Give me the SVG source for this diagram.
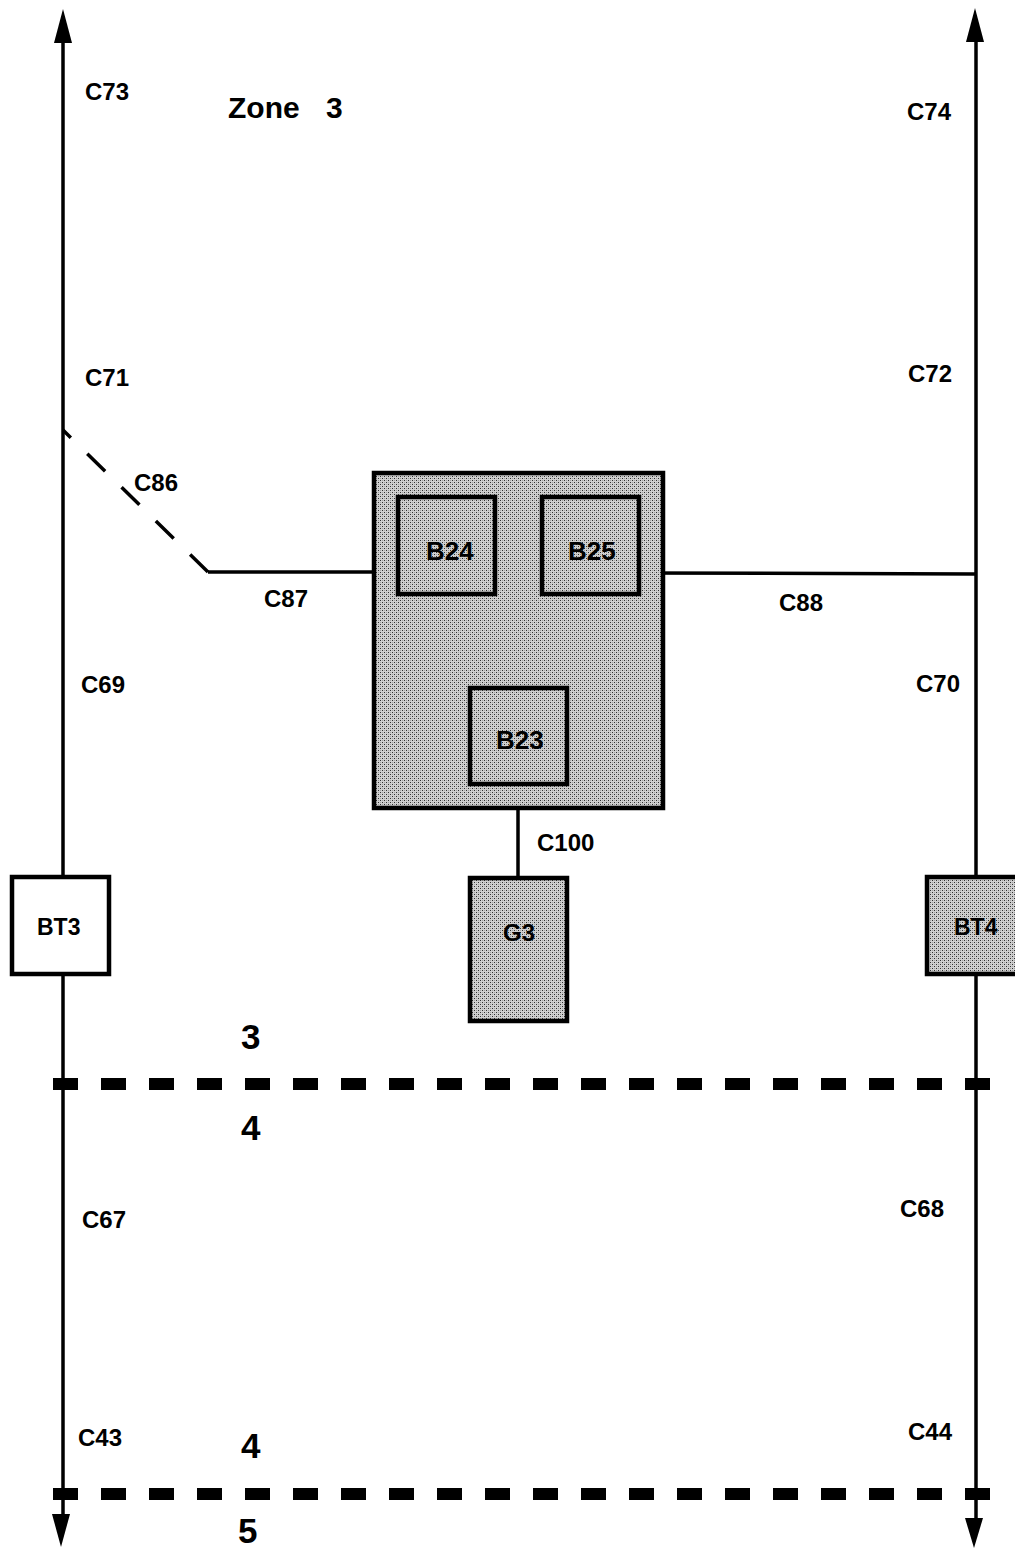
<svg xmlns="http://www.w3.org/2000/svg" width="1015" height="1550" viewBox="0 0 1015 1550">
<style>
.lbl{font-family:"Liberation Sans",Arial,sans-serif;font-weight:bold;font-size:24px;fill:#000}
.blk{font-size:26px}
.big{font-family:"Liberation Sans",Arial,sans-serif;font-weight:bold;font-size:35px;fill:#000}
.box{stroke:#000;stroke-width:4.5}
.gray{fill:url(#stipple)}
.white{fill:#fff}
.wire{stroke:#000;stroke-width:3.5;fill:none}
.zline{stroke:#000;stroke-width:12;stroke-dasharray:25 23;fill:none}
</style>
<defs>
<pattern id="stipple" width="4" height="4" patternUnits="userSpaceOnUse">
<rect width="4" height="4" fill="#d0d0d0"/>
<rect x="0" y="0" width="1" height="1" fill="#303030"/>
<rect x="2" y="2" width="1" height="1" fill="#303030"/>
<rect x="2" y="0" width="1" height="1" fill="#a0a0a0"/>
<rect x="0" y="2" width="1" height="1" fill="#a0a0a0"/>
</pattern>
</defs>
<rect width="1015" height="1550" fill="#fff"/>
<g id="connectors">
<line class="wire" x1="63" y1="40" x2="63" y2="1516"/>
<path d="M54,43 L63,9 L72,43 Z" fill="#000"/>
<path d="M52,1514 L61,1547 L70,1514 Z" fill="#000"/>
<line class="wire" x1="976" y1="40" x2="976" y2="1520"/>
<path d="M966,42 L975,8 L984,42 Z" fill="#000"/>
<path d="M965,1518 L974,1548 L983,1518 Z" fill="#000"/>
<path class="wire" d="M208,572 L63,430" stroke-dasharray="25 23" stroke-width="4"/>
<line class="wire" x1="208" y1="572" x2="397" y2="572"/>
<line class="wire" x1="640" y1="573" x2="976" y2="574"/>
<path class="wire" d="M446,595 L446,640 L593,640 L593,595"/>
<line class="wire" x1="519" y1="640" x2="519" y2="686"/>
<line class="wire" x1="518" y1="785" x2="518" y2="877"/>
<path class="zline" d="M53,1084 L1000,1084"/>
<path class="zline" d="M53,1494 L1000,1494"/>
</g>
<g id="zone3">
<rect class="box gray" x="374" y="473" width="289" height="335"/>
</g>
<g id="B24">
<rect class="box gray" x="398" y="497" width="97" height="97"/>
<text class="lbl blk" x="426" y="560">B24</text>
</g>
<g id="B25">
<rect class="box gray" x="542" y="497" width="97" height="97"/>
<text class="lbl blk" x="568" y="560">B25</text>
</g>
<g id="B23">
<rect class="box gray" x="470" y="688" width="97" height="96"/>
<text class="lbl blk" x="496" y="749">B23</text>
</g>
<g id="G3">
<rect class="box gray" x="470" y="878" width="97" height="143"/>
<text class="lbl" x="503" y="941">G3</text>
</g>
<g id="BT3">
<rect class="box white" x="12" y="877" width="97" height="97"/>
<text class="lbl" x="37" y="935" style="font-size:23px">BT3</text>
</g>
<g id="BT4">
<rect class="box gray" x="927" y="877" width="100" height="97"/>
<text class="lbl" x="954" y="935" style="font-size:23px">BT4</text>
</g>
<g id="labels">
<text class="lbl" x="85" y="100">C73</text>
<text class="lbl" x="228" y="118" style="font-size:30px">Zone</text>
<text class="lbl" x="326" y="118" style="font-size:30px">3</text>
<text class="lbl" x="907" y="120">C74</text>
<text class="lbl" x="85" y="386">C71</text>
<text class="lbl" x="908" y="382">C72</text>
<text class="lbl" x="134" y="491">C86</text>
<text class="lbl" x="264" y="607">C87</text>
<text class="lbl" x="779" y="611">C88</text>
<text class="lbl" x="81" y="693">C69</text>
<text class="lbl" x="916" y="692">C70</text>
<text class="lbl" x="537" y="851">C100</text>
<text class="lbl" x="82" y="1228">C67</text>
<text class="lbl" x="900" y="1217">C68</text>
<text class="lbl" x="78" y="1446">C43</text>
<text class="lbl" x="908" y="1440">C44</text>
<text class="big" x="241" y="1049">3</text>
<text class="big" x="241" y="1140">4</text>
<text class="big" x="241" y="1458">4</text>
<text class="big" x="238" y="1543">5</text>
</g>
</svg>
